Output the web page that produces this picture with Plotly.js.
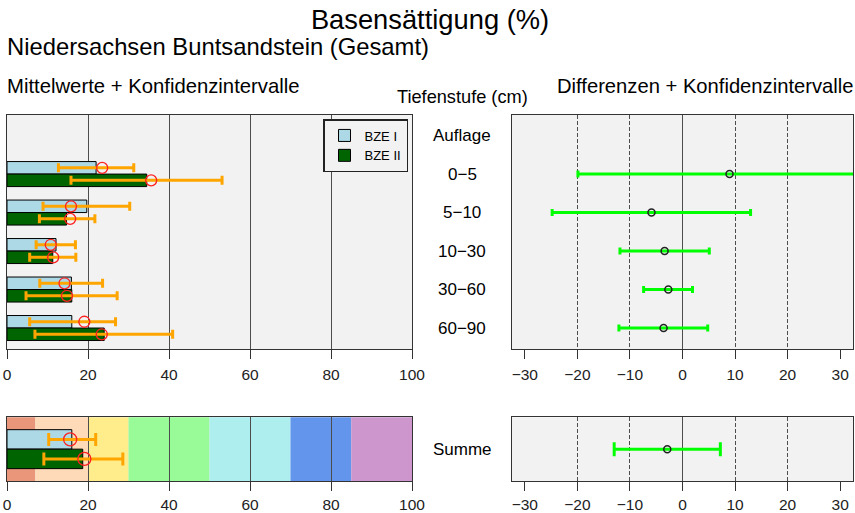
<!DOCTYPE html>
<html>
<head>
<meta charset="utf-8">
<script src="https://cdn.plot.ly/plotly-3.0.1.min.js"></script>
<style>html,body{margin:0;padding:0;background:#fff;}#chart{width:855px;height:513px;}</style>
</head>
<body>
<div id="chart"></div>
<script>
// ---- data ----
const depthLabels = ["Auflage", "0\u22125", "5\u221210", "10\u221230", "30\u221260", "60\u221290"];
const seriesNames = ["BZE I", "BZE II"];
// bar length (median), mean (circle), CI lower / upper
const medI   = [null, 22.0, 19.7, 12.1, 15.9, 16.0];
const medII  = [null, 34.5, 14.7, 11.3, 16.0, 24.0];
const meanI  = [null, 23.5, 15.8, 10.8, 14.2, 19.1];
const meanII = [null, 35.6, 15.6, 11.4, 14.8, 23.4];
const loI    = [null, 12.7, 8.9, 7.2, 8.1, 5.6];
const hiI    = [null, 31.3, 30.3, 16.9, 23.6, 26.8];
const loII   = [null, 15.8, 8.0, 5.6, 4.7, 6.9];
const hiII   = [null, 53.1, 21.7, 17.0, 27.2, 40.9];
// differences BZE II - BZE I
const diffMean = [null, 8.95, -5.9, -3.4, -2.7, -3.6];
const diffLo   = [null, -19.9, -24.8, -11.9, -7.4, -12.1];
const diffHi   = [null, 38.0, 12.95, 5.1, 1.9, 4.8];
// Summe
const sumLabel = "Summe";
const sumMed  = [16.0, 18.7];
const sumMean = [15.6, 19.1];
const sumLo   = [10.3, 9.1];
const sumHi   = [21.9, 28.6];
const sumDiff = -2.9, sumDiffLo = -13.0, sumDiffHi = 7.2;
// classification bands
const bandBreaks = [0, 7, 20, 30, 50, 70, 85, 100];
const bandColors = ["#E9967A", "#FFDAB9", "#FFEC8B", "#98FB98", "#AFEEEE", "#6495ED", "#CD96CD"];
const xTicksLeft = [0, 20, 40, 60, 80, 100];
const xTicksRight = [-30, -20, -10, 0, 10, 20, 30];

// ---- helpers ----
const idx = depthLabels.map((_, i) => i);
const W = 855, H = 513;
const px = v => v / W, py = v => 1 - v / H;
const barW = 0.325, barWs = 0.306;
const colI = "#ADD8E6", colII = "#006400";
const FONT = "Liberation Sans, Arial, sans-serif";

function errArr(mean, lo, hi) {
  return {
    plus: mean.map((m, i) => m == null ? null : hi[i] - m),
    minus: mean.map((m, i) => m == null ? null : m - lo[i])
  };
}

const traces = [];
// top-left bars
traces.push({type: "bar", orientation: "h", name: seriesNames[0], x: medI, y: idx, width: barW, offset: -barW,
  marker: {color: colI, line: {color: "#000", width: 1}}, xaxis: "x", yaxis: "y", showlegend: true, legendrank: 1});
traces.push({type: "bar", orientation: "h", name: seriesNames[1], x: medII, y: idx, width: barW, offset: 0,
  marker: {color: colII, line: {color: "#000", width: 1}}, xaxis: "x", yaxis: "y", showlegend: true, legendrank: 2});
// top-left means + CI
[[meanI, loI, hiI, -barW / 2], [meanII, loII, hiII, barW / 2]].forEach(([m, lo, hi, off]) => {
  const e = errArr(m, lo, hi);
  traces.push({type: "scatter", mode: "markers", x: m, y: idx.map(i => i + off), xaxis: "x", yaxis: "y", showlegend: false,
    marker: {symbol: "circle-open", size: 11, color: "#FF2020", line: {width: 1.3}},
    error_x: {type: "data", symmetric: false, array: e.plus, arrayminus: e.minus, color: "#FFA500", thickness: 3, width: 4.5}});
});
// bottom-left bars
traces.push({type: "bar", orientation: "h", x: [sumMed[0]], y: [0], width: barWs, offset: -barWs,
  marker: {color: colI, line: {color: "#000", width: 1}}, xaxis: "x2", yaxis: "y2", showlegend: false});
traces.push({type: "bar", orientation: "h", x: [sumMed[1]], y: [0], width: barWs, offset: 0,
  marker: {color: colII, line: {color: "#000", width: 1}}, xaxis: "x2", yaxis: "y2", showlegend: false});
[0, 1].forEach(k => {
  traces.push({type: "scatter", mode: "markers", x: [sumMean[k]], y: [k === 0 ? -barWs / 2 : barWs / 2], xaxis: "x2", yaxis: "y2", showlegend: false,
    marker: {symbol: "circle-open", size: 13, color: "#FF2020", line: {width: 1.3}},
    error_x: {type: "data", symmetric: false, array: [sumHi[k] - sumMean[k]], arrayminus: [sumMean[k] - sumLo[k]], color: "#FFA500", thickness: 3, width: 6.5}});
});
// top-right differences
(function () {
  const e = errArr(diffMean, diffLo, diffHi);
  traces.push({type: "scatter", mode: "markers", x: diffMean, y: idx, xaxis: "x3", yaxis: "y3", showlegend: false,
    marker: {symbol: "circle-open", size: 7, color: "#222", line: {width: 1.5}},
    error_x: {type: "data", symmetric: false, array: e.plus, arrayminus: e.minus, color: "#00FF00", thickness: 3, width: 3.5}});
})();
// bottom-right
traces.push({type: "scatter", mode: "markers", x: [sumDiff], y: [0], xaxis: "x4", yaxis: "y4", showlegend: false,
  marker: {symbol: "circle-open", size: 7, color: "#222", line: {width: 1.5}},
  error_x: {type: "data", symmetric: false, array: [sumDiffHi - sumDiff], arrayminus: [sumDiff - sumDiffLo], color: "#00FF00", thickness: 3, width: 7}});

const dxL = [px(7), px(412)];
const dxR = [px(511.7), px(853.3)];
const dyT = [py(349), py(115)];
const dyB = [py(481), py(417.3)];
const lineC = "#333";
const gridC = "#4d4d4d";
const tickFont = {family: FONT, size: 15.5, color: "#222"};

function leftX(anchor, standoff) {
  return {domain: dxL, anchor: anchor, range: [0, 100], tickvals: xTicksLeft, showgrid: true, gridcolor: gridC, gridwidth: 1,
    zeroline: false, showline: true, mirror: true, linecolor: lineC, linewidth: 1, ticks: "outside", ticklen: 9,
    tickcolor: lineC, tickwidth: 1, tickfont: tickFont, ticklabelstandoff: standoff, fixedrange: true};
}
function rightX(anchor, standoff) {
  return {domain: dxR, anchor: anchor, range: [-32.5, 32.5], tickvals: xTicksRight, showgrid: false,
    minor: {tickmode: "array", tickvals: [-20, -10, 10, 20], showgrid: true, gridcolor: gridC, gridwidth: 1, griddash: "4px,2px", ticks: ""},
    zeroline: true, zerolinecolor: gridC, zerolinewidth: 1, showline: true, mirror: true, linecolor: lineC, linewidth: 1,
    ticks: "outside", ticklen: 9, tickcolor: lineC, tickwidth: 1, tickfont: tickFont, ticklabelstandoff: standoff, fixedrange: true};
}
function yAx(domain, anchor, range) {
  return {domain: domain, anchor: anchor, range: range, showticklabels: false, ticks: "", showgrid: false, zeroline: false,
    showline: true, mirror: true, linecolor: lineC, linewidth: 1, fixedrange: true};
}

const shapes = bandColors.map((c, i) => ({type: "rect", xref: "x2", yref: "y2 domain", x0: bandBreaks[i], x1: bandBreaks[i + 1],
  y0: 0, y1: 1, fillcolor: c, line: {width: 0}, layer: "below"}));

const annotations = [
  {text: "Niedersachsen Buntsandstein (Gesamt)", xref: "paper", yref: "paper", x: px(5), y: py(47), xanchor: "left", yanchor: "middle",
    showarrow: false, font: {family: FONT, size: 23.8, color: "#000"}},
  {text: "Mittelwerte + Konfidenzintervalle", xref: "paper", yref: "paper", x: px(5), y: py(86), xanchor: "left", yanchor: "middle",
    showarrow: false, font: {family: FONT, size: 20.3, color: "#000"}},
  {text: "Differenzen + Konfidenzintervalle", xref: "paper", yref: "paper", x: px(855), y: py(86), xanchor: "right", yanchor: "middle",
    showarrow: false, font: {family: FONT, size: 20.2, color: "#000"}},
  {text: "Tiefenstufe (cm)", xref: "paper", yref: "paper", x: px(462), y: py(97), xanchor: "center", yanchor: "middle",
    showarrow: false, font: {family: FONT, size: 18.2, color: "#000"}}
];
depthLabels.forEach((lab, i) => annotations.push({text: lab, xref: "paper", yref: "y3", x: px(462), y: i, xanchor: "center", yanchor: "middle",
  showarrow: false, font: {family: FONT, size: 17, color: "#000"}}));
annotations.push({text: sumLabel, xref: "paper", yref: "y4", x: px(462), y: 0, xanchor: "center", yanchor: "middle",
  showarrow: false, font: {family: FONT, size: 17, color: "#000"}});

const layout = {
  width: W, height: H, margin: {l: 0, r: 0, t: 0, b: 0}, paper_bgcolor: "#fff", plot_bgcolor: "#F2F2F2",
  font: {family: FONT, color: "#000"},
  title: {text: "Basensättigung (%)", x: px(430), xanchor: "center", xref: "paper", y: py(19), yref: "paper", yanchor: "middle",
    font: {family: FONT, size: 27.3, color: "#000"}},
  barmode: "overlay", showlegend: true,
  legend: {x: px(323), y: py(119), xanchor: "left", yanchor: "top", bgcolor: "#F2F2F2", bordercolor: "#222", borderwidth: 1.5,
    font: {family: FONT, size: 13, color: "#000"}, itemwidth: 30, tracegroupgap: 0, traceorder: "normal"},
  xaxis: leftX("y", 2), yaxis: yAx(dyT, "x", [5.545, -0.535]),
  xaxis2: leftX("y2", 0), yaxis2: yAx(dyB, "x2", [0.5, -0.5]),
  xaxis3: rightX("y3", 2), yaxis3: yAx(dyT, "x3", [5.545, -0.535]),
  xaxis4: rightX("y4", 0), yaxis4: yAx(dyB, "x4", [0.5, -0.5]),
  shapes: shapes, annotations: annotations
};

Plotly.newPlot("chart", traces, layout, {displayModeBar: false, staticPlot: true});
</script>
</body>
</html>
